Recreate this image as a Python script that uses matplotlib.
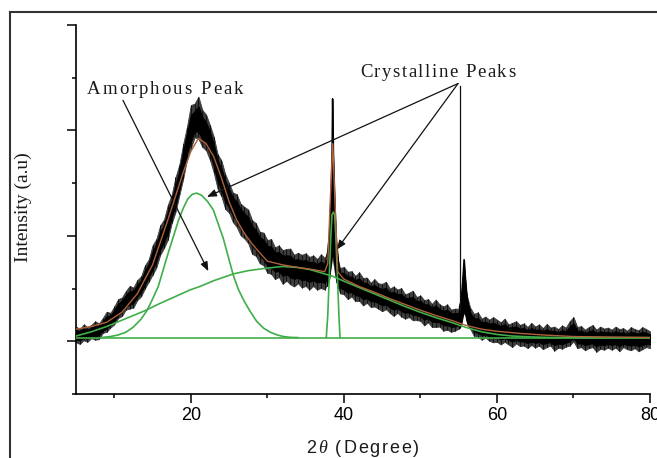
import numpy as np
import matplotlib
matplotlib.use("Agg")
import matplotlib.pyplot as plt
from matplotlib.ticker import MultipleLocator, NullFormatter
from matplotlib.lines import Line2D

plt.rcParams['font.family'] = ['Liberation Sans', 'DejaVu Sans']

# ---------------- data ----------------
# measured XRD pattern: centre of the noisy trace and the up/down reach of the noise (0.5 deg grid, 5..80)
obs_center = [
    0.12, 0.13, 0.14, 0.15, 0.16, 0.18, 0.22, 0.28, 0.34, 0.40,
    0.48, 0.58, 0.68, 0.75, 0.80, 0.86, 0.94, 1.05, 1.18, 1.35,
    1.52, 1.70, 1.88, 2.05, 2.25, 2.50, 2.75, 3.05, 3.40, 3.75,
    3.98, 4.15, 4.18, 4.05, 3.92, 3.78, 3.52, 3.25, 3.05, 2.85,
    2.70, 2.58, 2.45, 2.35, 2.25, 2.14, 2.02, 1.92, 1.82, 1.72,
    1.64, 1.58, 1.54, 1.50, 1.47, 1.45, 1.42, 1.40, 1.38, 1.36,
    1.35, 1.34, 1.33, 1.32, 1.31, 1.30, 1.45, 1.90, 1.40, 1.17,
    1.13, 1.10, 1.07, 1.04, 1.01, 0.98, 0.95, 0.93, 0.90, 0.88,
    0.85, 0.83, 0.80, 0.78, 0.76, 0.73, 0.71, 0.68, 0.66, 0.64,
    0.61, 0.58, 0.56, 0.53, 0.51, 0.48, 0.46, 0.44, 0.42, 0.40,
    0.42, 0.75, 0.70, 0.40, 0.30, 0.27, 0.25, 0.23, 0.21, 0.20,
    0.19, 0.18, 0.17, 0.16, 0.15, 0.14, 0.13, 0.12, 0.11, 0.11,
    0.10, 0.10, 0.09, 0.09, 0.08, 0.08, 0.08, 0.08, 0.08, 0.12,
    0.16, 0.09, 0.07, 0.07, 0.07, 0.07, 0.06, 0.06, 0.06, 0.06,
    0.06, 0.06, 0.05, 0.05, 0.05, 0.05, 0.05, 0.05, 0.05, 0.05,
    0.05,
]
obs_up = [
    0.16, 0.10, 0.18, 0.12, 0.15, 0.20, 0.12, 0.16, 0.22, 0.14,
    0.18, 0.22, 0.15, 0.20, 0.25, 0.16, 0.22, 0.18, 0.26, 0.20,
    0.30, 0.24, 0.32, 0.26, 0.34, 0.28, 0.36, 0.30, 0.34, 0.32,
    0.50, 0.36, 0.46, 0.34, 0.38, 0.32, 0.36, 0.30, 0.38, 0.32,
    0.30, 0.24, 0.34, 0.26, 0.30, 0.36, 0.28, 0.32, 0.26, 0.34,
    0.28, 0.36, 0.24, 0.32, 0.26, 0.30, 0.34, 0.24, 0.30, 0.28,
    0.32, 0.26, 0.30, 0.24, 0.34, 0.28, 0.30, 0.30, 0.26, 0.22,
    0.28, 0.22, 0.26, 0.20, 0.30, 0.22, 0.26, 0.18, 0.28, 0.22,
    0.24, 0.30, 0.20, 0.26, 0.22, 0.28, 0.18, 0.24, 0.30, 0.20,
    0.26, 0.20, 0.24, 0.18, 0.28, 0.22, 0.20, 0.26, 0.18, 0.22,
    0.20, 0.25, 0.20, 0.24, 0.22, 0.28, 0.18, 0.24, 0.20, 0.26,
    0.22, 0.18, 0.26, 0.16, 0.20, 0.24, 0.18, 0.22, 0.16, 0.24,
    0.18, 0.22, 0.16, 0.24, 0.18, 0.20, 0.15, 0.22, 0.18, 0.26,
    0.30, 0.18, 0.22, 0.15, 0.20, 0.24, 0.16, 0.22, 0.18, 0.20,
    0.16, 0.22, 0.18, 0.20, 0.15, 0.22, 0.18, 0.16, 0.22, 0.18,
    0.14,
]
obs_down = [
    0.14, 0.18, 0.12, 0.16, 0.10, 0.15, 0.18, 0.12, 0.16, 0.14,
    0.16, 0.14, 0.20, 0.15, 0.18, 0.22, 0.16, 0.20, 0.18, 0.22,
    0.26, 0.30, 0.24, 0.28, 0.32, 0.26, 0.30, 0.28, 0.32, 0.30,
    0.32, 0.28, 0.34, 0.36, 0.30, 0.34, 0.32, 0.36, 0.30, 0.34,
    0.26, 0.32, 0.28, 0.34, 0.30, 0.28, 0.36, 0.30, 0.34, 0.28,
    0.34, 0.30, 0.36, 0.28, 0.38, 0.30, 0.34, 0.36, 0.28, 0.34,
    0.30, 0.36, 0.28, 0.34, 0.30, 0.32, 0.30, 0.30, 0.26, 0.26,
    0.24, 0.30, 0.22, 0.28, 0.24, 0.30, 0.22, 0.28, 0.24, 0.26,
    0.28, 0.22, 0.26, 0.30, 0.22, 0.26, 0.28, 0.22, 0.26, 0.24,
    0.22, 0.28, 0.20, 0.26, 0.24, 0.20, 0.26, 0.22, 0.24, 0.20,
    0.18, 0.20, 0.22, 0.16, 0.20, 0.18, 0.22, 0.16, 0.20, 0.22,
    0.20, 0.24, 0.18, 0.22, 0.26, 0.18, 0.22, 0.20, 0.24, 0.18,
    0.22, 0.18, 0.24, 0.20, 0.16, 0.26, 0.20, 0.22, 0.18, 0.20,
    0.16, 0.22, 0.18, 0.24, 0.20, 0.18, 0.26, 0.20, 0.22, 0.18,
    0.22, 0.18, 0.24, 0.16, 0.20, 0.22, 0.18, 0.24, 0.20, 0.16,
    0.18,
]
obs_x = np.linspace(5.0, 80.0, len(obs_center))

# sharp crystalline reflections in the measured trace
peak1_x = [37.8, 38.1, 38.3, 38.45, 38.52, 38.6, 38.8, 39.0, 39.3]
peak1_hi = [1.60, 2.00, 2.70, 3.60, 4.60, 3.60, 2.60, 1.90, 1.45]
peak1_lo = [1.05, 1.20, 1.50, 1.90, 2.30, 2.00, 1.50, 1.15, 1.00]
peak2_x = [55.1, 55.3, 55.5, 55.7, 55.8, 56.0, 56.2, 56.5]
peak2_hi = [0.65, 0.75, 1.10, 1.55, 1.30, 0.95, 0.70, 0.55]
peak2_lo = [0.25, 0.30, 0.45, 0.60, 0.55, 0.40, 0.30, 0.25]

# fitted components (green)
base_x = [5, 80]
base_y = [0.07, 0.07]
amor_x = [8.5, 9.5, 10.5, 11.5, 12.5, 13.5, 14.3, 15.0, 15.75, 16.4, 17.1, 17.8,
          18.4, 19.0, 19.6, 20.2, 20.8, 21.4, 22.2, 22.95, 23.6, 24.25, 24.9,
          25.56, 26.2, 26.87, 27.7, 28.6, 29.5, 30.4, 31.3, 32.1, 33.0, 34.0]
amor_y = [0.075, 0.09, 0.12, 0.17, 0.27, 0.42, 0.59, 0.80, 1.04, 1.36, 1.70, 2.02,
          2.30, 2.52, 2.70, 2.79, 2.81, 2.77, 2.65, 2.49, 2.22, 1.95, 1.60,
          1.25, 0.99, 0.79, 0.58, 0.38, 0.25, 0.17, 0.12, 0.09, 0.075, 0.07]
broad_x = [5, 7, 9, 11, 13, 14, 16, 18, 20, 21.2, 23, 25.6, 27.5, 29.5, 32, 34,
           35.6, 37, 38.6, 40, 42, 44, 46, 48, 50, 52, 54, 56, 58, 60, 62, 64,
           66, 68, 80]
broad_y = [0.10, 0.18, 0.28, 0.40, 0.52, 0.58, 0.72, 0.85, 0.98, 1.04, 1.15,
           1.28, 1.34, 1.38, 1.42, 1.40, 1.36, 1.30, 1.23, 1.14, 1.02, 0.90,
           0.78, 0.66, 0.55, 0.45, 0.36, 0.26, 0.18, 0.13, 0.10, 0.085, 0.075,
           0.07, 0.07]
cryst_x = [37.7, 37.9, 38.1, 38.3, 38.45, 38.62, 38.8, 38.95, 39.15, 39.35, 39.5]
cryst_y = [0.07, 0.50, 1.26, 2.00, 2.40, 2.45, 2.40, 2.00, 1.26, 0.50, 0.07]

# cumulative fit (brown / red)
fit_x = [5, 7, 9, 11, 13, 15, 17, 19, 20, 21, 22, 23, 24, 25, 26, 27, 28, 29,
         30, 32, 34, 36, 37.5, 37.9, 38.2, 38.55, 38.9, 39.2, 40, 42, 44, 46,
         48, 50, 52, 54, 56, 58, 60, 63, 66, 70, 75, 80]
fit_y = [0.23, 0.28, 0.36, 0.55, 0.90, 1.45, 2.30, 3.20, 3.60, 3.85, 3.75,
         3.50, 3.10, 2.65, 2.30, 2.05, 1.85, 1.68, 1.52, 1.45, 1.40, 1.36,
         1.32, 1.48, 2.60, 3.75, 2.40, 1.32, 1.18, 1.04, 0.93, 0.81, 0.70,
         0.59, 0.49, 0.40, 0.30, 0.23, 0.19, 0.15, 0.12, 0.09, 0.08, 0.07]

x_ticks = [20, 40, 60, 80]

# ---------------- figure ----------------
W, H = 657, 458
fig = plt.figure(figsize=(W / 100, H / 100), dpi=100)
fig.patch.set_facecolor('white')
ax = fig.add_axes([76 / W, 1 - 394 / H, (650 - 76) / W, (394 - 25) / H])

GREEN = '#3fae49'
FIT = '#b0603a'

center = np.array(obs_center)
up = np.array(obs_up)
down = np.array(obs_down)
hi = center + up
lo = center - down
# noisy trace: full reach of the noise in dark grey, thin noise strokes, solid black core
ax.fill_between(obs_x, lo, hi, color='#3c3c3c', lw=0.6, zorder=2)
ax.vlines(obs_x, lo, hi, color='#111111', lw=0.7, zorder=2)
ax.fill_between(obs_x, center - 0.6 * down, center + 0.6 * up, color='black',
                lw=0.8, zorder=2)
ax.fill_between(peak1_x, peak1_lo, peak1_hi, color='black', lw=0.8, zorder=2)
ax.plot(peak1_x, peak1_hi, color='black', lw=1.0, zorder=2)
ax.fill_between(peak2_x, peak2_lo, peak2_hi, color='black', lw=0.8, zorder=2)
ax.plot(peak2_x, peak2_hi, color='black', lw=1.0, zorder=2)

for xs, ys in [(base_x, base_y), (amor_x, amor_y), (broad_x, broad_y),
               (cryst_x, cryst_y)]:
    ax.plot(xs, ys, color=GREEN, lw=1.2, zorder=3, solid_joinstyle='round')
ax.plot(fit_x, fit_y, color=FIT, lw=1.0, zorder=4)

ax.set_xlim(5, 80)
ax.set_ylim(-1, 6)
ax.xaxis.set_major_locator(plt.FixedLocator(x_ticks))
ax.xaxis.set_minor_locator(MultipleLocator(10))
ax.yaxis.set_major_locator(MultipleLocator(2))
ax.yaxis.set_minor_locator(MultipleLocator(1))
ax.yaxis.set_major_formatter(NullFormatter())
for s in ['top', 'right']:
    ax.spines[s].set_visible(False)
for s in ['left', 'bottom']:
    ax.spines[s].set_linewidth(1.2)
ax.tick_params(which='major', direction='out', length=6.5, width=1.1,
               labelsize=13, pad=2.5)
ax.tick_params(which='minor', direction='out', length=3.2, width=1.1)
ax.set_facecolor('white')

# outer frame
fig.add_artist(Line2D([10 / W, 1.0], [1 - 12 / H, 1 - 12 / H], color='#333333',
                      lw=1.5, transform=fig.transFigure))
fig.add_artist(Line2D([10 / W, 10 / W], [1 - 12 / H, 0.0], color='#333333',
                      lw=1.5, transform=fig.transFigure))

renderer = fig.canvas.get_renderer()


def char_width(ch, kw):
    t1 = fig.text(0, 0, ch + '|', **kw)
    a = t1.get_window_extent(renderer).width
    t1.remove()
    t2 = fig.text(0, 0, '|', **kw)
    b = t2.get_window_extent(renderer).width
    t2.remove()
    return a - b


def spaced_text(x_px, y_px, s, spacing, ha='left', per_char=None, **kw):
    kws = []
    for i, ch in enumerate(s):
        k = dict(kw)
        if per_char and i in per_char:
            k.update(per_char[i])
        kws.append(k)
    widths = [char_width(ch, k) for ch, k in zip(s, kws)]
    total = sum(widths) + spacing * (len(s) - 1)
    x = x_px - total / 2 if ha == 'center' else x_px
    for ch, k, w in zip(s, kws, widths):
        fig.text(x / W, 1 - y_px / H, ch, ha='left', va='baseline', **k)
        x += w + spacing


serif = dict(family=['Liberation Serif', 'DejaVu Serif'], size=13.5, color='#1a1a1a')
spaced_text(87, 94, 'Amorphous Peak', 2.0, **serif)
spaced_text(360, 77, 'Crystalline Peaks', 1.5, **serif)

spaced_text(362.5, 453, '2\u03b8 (Degree)', 1.8, ha='center',
            per_char={1: dict(family=['Liberation Serif', 'DejaVu Serif'],
                              style='italic')},
            family=['Liberation Sans', 'DejaVu Sans'], size=13, color='#1a1a1a')

fig.text(23 / W, 1 - 207 / H, 'Intensity (a.u)', rotation=90, ha='center',
         va='center', family=['Liberation Serif', 'DejaVu Serif'], size=14,
         color='#1a1a1a')

# annotation arrows (data coordinates)
arrow = dict(arrowstyle='-|>,head_length=0.55,head_width=0.22', color='#111111',
             lw=0.9, shrinkA=0, shrinkB=0)
ax.annotate('', xy=(22.29, 1.33), xytext=(11.14, 4.57), arrowprops=arrow,
            annotation_clip=False)
ax.annotate('', xy=(22.12, 2.74), xytext=(54.92, 4.89), arrowprops=arrow,
            annotation_clip=False)
ax.annotate('', xy=(39.07, 1.74), xytext=(54.92, 4.89), arrowprops=arrow,
            annotation_clip=False)
ax.plot([55.18, 55.18], [4.85, 0.60], color='#111111', lw=0.9, zorder=5)

fig.savefig('out.png', dpi=100, facecolor='white')
